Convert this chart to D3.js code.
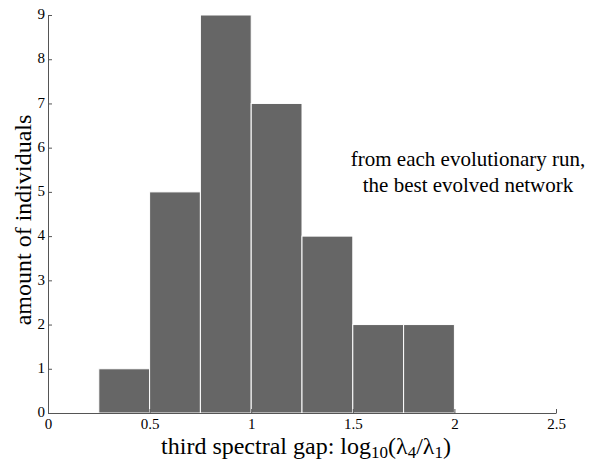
<!DOCTYPE html>
<html>
<head>
<meta charset="utf-8">
<script src="https://cdn.jsdelivr.net/npm/d3@7"></script>
<style>
  body { margin: 0; background: #fff; }
</style>
</head>
<body>
<svg id="chart"></svg>
<script>
// histogram bins (lower edge, upper edge) and counts
const binStart = [0.25, 0.5, 0.75, 1.0, 1.25, 1.5, 1.75];
const binEnd = [0.5, 0.75, 1.0, 1.25, 1.5, 1.75, 2.0];
const counts = [1, 5, 9, 7, 4, 2, 2];
const xTicks = [0, 0.5, 1, 1.5, 2, 2.5];
const yTicks = [0, 1, 2, 3, 4, 5, 6, 7, 8, 9];
const noteLines = ["from each evolutionary run,", "the best evolved network"];

const serif = '"Liberation Serif", "Times New Roman", serif';
const width = 594, height = 461;
const margin = { top: 15, right: 38, bottom: 48, left: 48 };

const svg = d3.select('#chart')
  .attr('width', width)
  .attr('height', height)
  .style('font-family', serif);

const x = d3.scaleLinear().domain([0, 2.5]).range([margin.left, width - margin.right]);
const y = d3.scaleLinear().domain([0, 9]).range([height - margin.bottom, margin.top]);

const bins = counts.map((c, i) => ({ x0: binStart[i], x1: binEnd[i], n: c }));

svg.append('g').selectAll('rect')
  .data(bins)
  .enter().append('rect')
  .attr('x', d => x(d.x0))
  .attr('y', d => y(d.n))
  .attr('width', d => x(d.x1) - x(d.x0))
  .attr('height', d => y(0) - y(d.n))
  .attr('fill', '#666666')
  .attr('stroke', '#ffffff')
  .attr('stroke-width', 1);

// axes with inward ticks
const xAxis = svg.append('g')
  .attr('transform', `translate(0,${y(0)})`)
  .call(d3.axisBottom(x).tickValues(xTicks).tickFormat(d3.format('')).tickSizeInner(-4).tickSizeOuter(0).tickPadding(5));

const yAxis = svg.append('g')
  .attr('transform', `translate(${x(0)},0)`)
  .call(d3.axisLeft(y).tickValues(yTicks).tickSizeInner(-4).tickSizeOuter(0).tickPadding(3));

[xAxis, yAxis].forEach(a => {
  a.attr('font-family', null);
  a.select('.domain').attr('stroke', '#555');
  a.selectAll('.tick line').attr('stroke', '#555');
  a.selectAll('.tick text')
    .style('font-family', serif)
    .style('font-size', '15px')
    .attr('fill', '#000');
});
xAxis.selectAll('.tick text').attr('dy', '0.71em');
yAxis.selectAll('.tick text').attr('dy', '0.25em');

// x label with subscripts
const xl = svg.append('text')
  .attr('x', 306)
  .attr('y', 454)
  .attr('text-anchor', 'middle')
  .style('font-family', serif)
  .style('font-size', '24px');
xl.append('tspan').text('third spectral gap: log');
xl.append('tspan').attr('dy', 4).style('font-size', '17px').text('10');
xl.append('tspan').attr('dy', -4).text('(λ');
xl.append('tspan').attr('dy', 4).style('font-size', '17px').text('4');
xl.append('tspan').attr('dy', -4).text('/λ');
xl.append('tspan').attr('dy', 4).style('font-size', '17px').text('1');
xl.append('tspan').attr('dy', -4).text(')');

svg.append('text')
  .attr('transform', `translate(31,${(y(0) + y(9)) / 2 + 6}) rotate(-90)`)
  .attr('text-anchor', 'middle')
  .style('font-family', serif)
  .style('font-size', '24px')
  .text('amount of individuals');

svg.append('g').selectAll('text')
  .data(noteLines)
  .enter().append('text')
  .attr('x', 468)
  .attr('y', (d, i) => 166 + i * 26)
  .attr('text-anchor', 'middle')
  .style('font-family', serif)
  .style('font-size', '21px')
  .text(d => d);
</script>
</body>
</html>
